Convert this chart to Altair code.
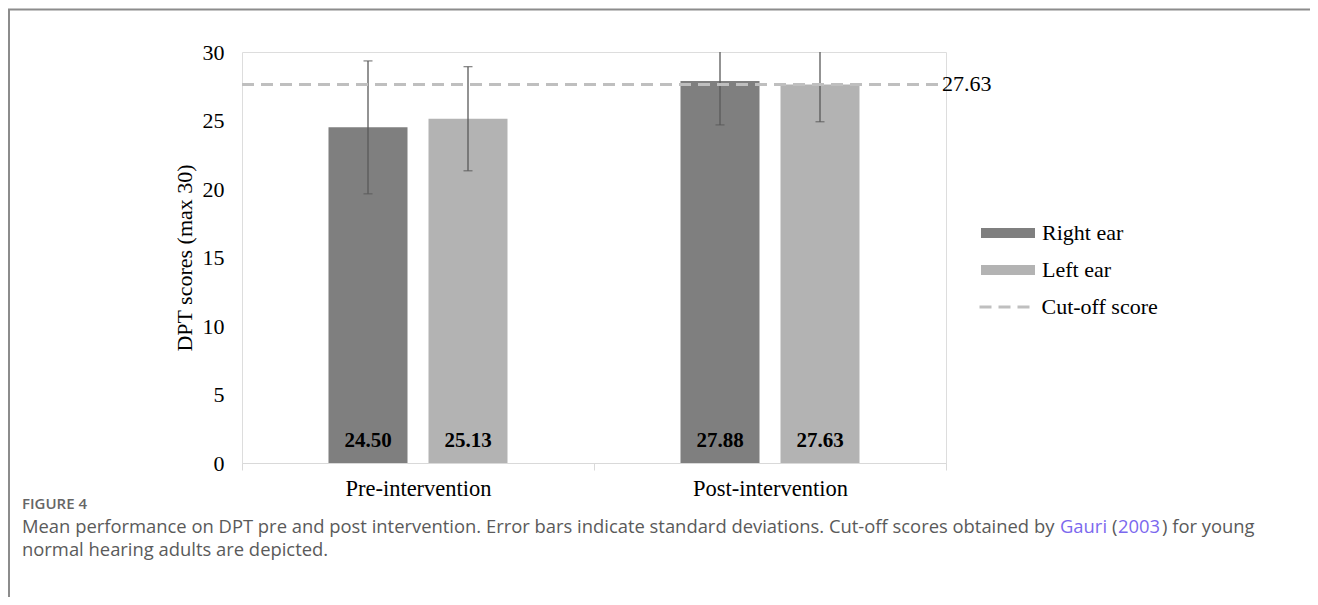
import altair as alt
import pandas as pd

# ---- data ----
categories = ["Pre-intervention", "Post-intervention"]
ears = ["Right ear", "Left ear"]
means = [24.50, 25.13, 27.88, 27.63]
sds = [4.85, 3.80, 3.20, 2.72]
value_labels = ["24.50", "25.13", "27.88", "27.63"]
cutoff = 27.63
cutoff_label = "27.63"
y_ticks = [0, 5, 10, 15, 20, 25, 30]

bar_colors = ["#7f7f7f", "#b3b3b3"]
SERIF = "Liberation Serif"
SANS = "Open Sans"
FS = 22

rows = []
k = 0
for c in categories:
    for e in ears:
        rows.append({"cat": c, "ear": e, "mean": means[k], "lo": means[k] - sds[k],
                     "hi": means[k] + sds[k], "lab": value_labels[k]})
        k += 1
df = pd.DataFrame(rows)
cut_df = pd.DataFrame({"v": [cutoff], "name": ["Cut-off score"], "lab": [cutoff_label]})

W, H = 704, 411
PAD_L, PAD_T = 234, 44
OX, OY = 8 + PAD_L, 8 + PAD_T  # page position of plot origin

x_enc = alt.X("cat:N", sort=categories,
              scale=alt.Scale(domain=categories, paddingInner=0, paddingOuter=0),
              axis=alt.Axis(title=None, labelAngle=0, domainColor="#d9d9d9", domainWidth=1,
                            tickColor="#d9d9d9", tickSize=7, tickBand="extent",
                            labelFont=SERIF, labelFontSize=22.5, labelColor="black",
                            labelPadding=7, grid=False))
xo_enc = alt.XOffset("ear:N", sort=ears,
                     scale=alt.Scale(domain=ears, paddingInner=0.21, paddingOuter=0.865))
y_scale = alt.Scale(domain=[0, 30], nice=False, zero=True)

bars = alt.Chart(df).mark_bar().encode(
    x=x_enc, xOffset=xo_enc,
    y=alt.Y("mean:Q", scale=y_scale,
            axis=alt.Axis(values=y_ticks, domain=False, ticks=False, grid=False,
                          labelFont=SERIF, labelFontSize=FS, labelColor="black",
                          labelPadding=18, title="DPT scores (max 30)",
                          titleFont=SERIF, titleFontSize=FS, titleFontWeight="normal",
                          titleColor="black", titlePadding=6)),
    fill=alt.Fill("ear:N", sort=ears, scale=alt.Scale(domain=ears, range=bar_colors),
                  legend=alt.Legend(title=None, orient="none", legendX=733, legendY=170,
                                    symbolType="M-5.4,-1H5.4V1H-5.4Z", symbolSize=100,
                                    symbolOffset=22, labelOffset=23, rowPadding=15,
                                    labelFont=SERIF, labelFontSize=FS, labelColor="black",
                                    symbolStrokeWidth=0, padding=0)),
)

err_rule = alt.Chart(df).mark_rule(stroke="#595959", strokeWidth=1.3, clip=True).encode(
    x=alt.X("cat:N", sort=categories), xOffset=alt.XOffset("ear:N", sort=ears),
    y="lo:Q", y2="hi:Q")
err_lo = alt.Chart(df).mark_tick(color="#595959", thickness=1.3, size=9, clip=True).encode(
    x=alt.X("cat:N", sort=categories), xOffset=alt.XOffset("ear:N", sort=ears), y="lo:Q")
err_hi = alt.Chart(df).mark_tick(color="#595959", thickness=1.3, size=9, clip=True).encode(
    x=alt.X("cat:N", sort=categories), xOffset=alt.XOffset("ear:N", sort=ears), y="hi:Q")

val_text = alt.Chart(df).mark_text(font=SERIF, fontSize=21, fontWeight="bold",
                                   baseline="middle", dy=-22, color="black").encode(
    x=alt.X("cat:N", sort=categories), xOffset=alt.XOffset("ear:N", sort=ears),
    y=alt.datum(0), text="lab:N")

cut_rule = alt.Chart(cut_df).mark_rule(stroke="#bfbfbf", strokeWidth=3).encode(
    y="v:Q", x=alt.value(0), x2=alt.value(698),
    strokeDash=alt.StrokeDash("name:N", scale=alt.Scale(domain=["Cut-off score"], range=[[12, 7]]),
                              legend=alt.Legend(title=None, orient="none", legendX=733,
                                                legendY=244, symbolType="M-5,0H5",
                                                symbolSize=100, symbolOffset=18.5,
                                                labelOffset=26, symbolStrokeColor="#bfbfbf",
                                                symbolStrokeWidth=3, labelFont=SERIF,
                                                labelFontSize=FS, labelColor="black",
                                                padding=0)))
cut_text = alt.Chart(cut_df).mark_text(font=SERIF, fontSize=FS, align="left",
                                       baseline="middle", color="black").encode(
    y="v:Q", x=alt.value(700), text="lab:N")

one = pd.DataFrame({"a": [0]})
frame_top = alt.Chart(one).mark_rule(stroke="#8c8c8c", strokeWidth=2).encode(
    x=alt.value(-PAD_L), x2=alt.value(1318 - OX), y=alt.value(9.5 - OY))
frame_left = alt.Chart(one).mark_rule(stroke="#8c8c8c", strokeWidth=2).encode(
    x=alt.value(9 - OX), y=alt.value(9.5 - OY), y2=alt.value(605 - OY))

GRAY = "#5a5a5a"
PURPLE = "#7b68ee"
CFS = 18.4
caption = [
    # text, page x, page y, color, size, weight
    ("FIGURE 4", 22, 504, "#666666", 15, 600),
    ("Mean performance on DPT pre and post intervention. Error bars indicate standard deviations. "
     "Cut-off scores obtained by", 22, 527, GRAY, CFS, 400),
    ("Gauri", 1060, 527, PURPLE, CFS, 400),
    ("(", 1112, 527, GRAY, CFS, 400),
    ("2003", 1118, 527, PURPLE, CFS, 400),
    (") for young", 1162, 527, GRAY, CFS, 400),
    ("normal hearing adults are depicted.", 22, 550, GRAY, CFS, 400),
]
cap_layers = []
for t, px, py, col, fs, fw in caption:
    cap_layers.append(
        alt.Chart(one).mark_text(text=t, font=SANS, fontSize=fs, fontWeight=fw, color=col,
                                 align="left", baseline="middle").encode(
            x=alt.value(px - OX), y=alt.value(py - OY)))

chart = alt.layer(bars, err_rule, err_lo, err_hi, val_text, cut_rule, cut_text,
                  frame_top, frame_left, *cap_layers).properties(
    width=W, height=H,
    autosize=alt.AutoSizeParams(type="none"),
    padding={"left": PAD_L, "top": PAD_T, "right": 1302 - PAD_L - W, "bottom": 589 - PAD_T - H},
).configure_view(stroke=None).configure(background="white")

chart.save("out.html", embed_options={"renderer": "svg", "actions": False})
